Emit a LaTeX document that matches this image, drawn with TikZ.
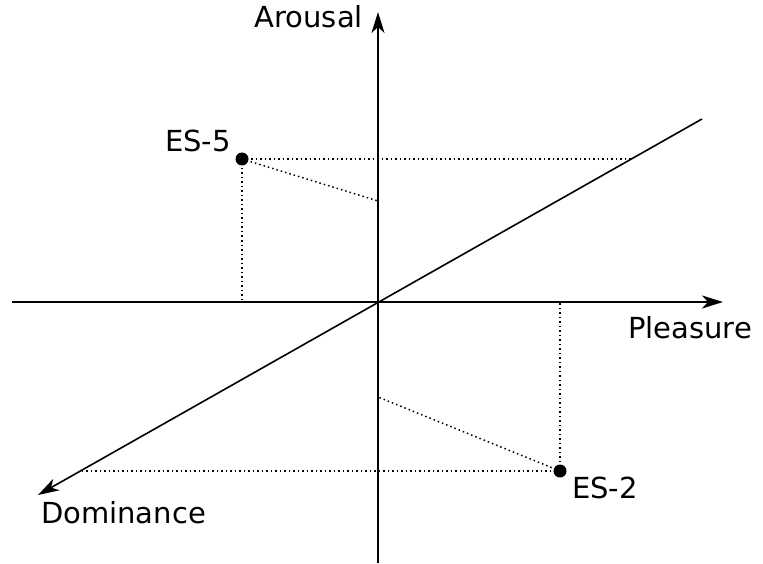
\documentclass[tikz,border=0pt]{standalone}
\usepackage{fontspec}
\setmainfont{DejaVu Sans}
\usetikzlibrary{arrows.meta}
\begin{document}
\begin{tikzpicture}[x=1pt,y=-1pt,
  axis/.style={line width=1.6pt,-{Stealth[length=21pt,width=13pt,inset=6pt]}},
  guide/.style={line width=1.5pt,dash pattern=on 1.5pt off 3pt},
  pt/.style={circle,fill=black,inner sep=0pt,minimum size=13pt},
  lab/.style={font=\fontsize{29}{33}\selectfont,inner sep=0pt}]
\useasboundingbox (0,0) rectangle (763,564);
\coordinate (O) at (378,302);
\coordinate (Ab) at (378,563);
\coordinate (At) at (378,12);
\coordinate (Pl) at (12,302);
\coordinate (Pr) at (723,302);
\coordinate (Dt) at (702,119);
\coordinate (Db) at (38,495);
\draw[axis] (Ab) -- (At);
\draw[axis] (Pl) -- (Pr);
\draw[axis] (Dt) -- (Db);
\node[lab,anchor=base east] (ar) at (363,28) {Arousal};
\node[lab,anchor=base west] (pl) at (628,338) {Pleasure};
\node[lab,anchor=base west] (dm) at (41,523) {Dominance};
% ES-5
\node[pt] (e5) at (242,159) {};
\node[lab,anchor=base east] (e5l) at (231,152) {ES-5};
\coordinate (e5x) at (242,302);
\coordinate (e5d) at (631,159);
\coordinate (e5a) at (378,201);
\draw[guide] (e5.center) -- (e5x);
\draw[guide] (e5.center) -- (e5d);
\draw[guide] (e5.center) -- (e5a);
% ES-2
\node[pt] (e2) at (560,471) {};
\node[lab,anchor=base west] (e2l) at (572,498) {ES-2};
\coordinate (e2x) at (560,302);
\coordinate (e2d) at (82,471);
\coordinate (e2a) at (378,397);
\draw[guide] (e2.center) -- (e2x);
\draw[guide] (e2.center) -- (e2d);
\draw[guide] (e2.center) -- (e2a);
\end{tikzpicture}
\end{document}
